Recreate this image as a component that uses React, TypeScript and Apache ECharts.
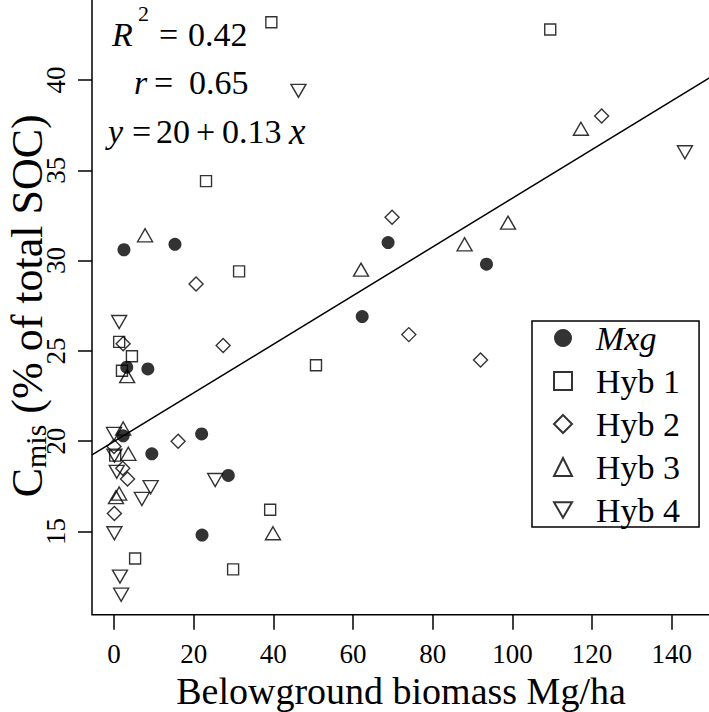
import React, { useEffect, useRef } from "react";
import * as echarts from "echarts";

// ---- data ----
const seriesNames = ["Mxg", "Hyb 1", "Hyb 2", "Hyb 3", "Hyb 4"];

const mxgX = [2.5, 15.3, 68.8, 93.5, 62.3, 3.2, 8.5, 2.3, 9.5, 22.0, 28.7, 22.1];
const mxgY = [30.6, 30.9, 31.0, 29.8, 26.9, 24.1, 24.0, 20.3, 19.3, 20.4, 18.1, 14.8];

const hyb1X = [39.5, 109.5, 23.1, 31.4, 50.7, 1.3, 4.5, 2.0, 0.3, 39.2, 5.3, 29.9];
const hyb1Y = [43.2, 42.8, 34.4, 29.4, 24.2, 25.5, 24.7, 23.9, 19.2, 16.2, 13.5, 12.9];

const hyb2X = [122.4, 69.8, 20.6, 74.0, 27.4, 92.0, 2.3, 16.1, 0.0, 2.2, 3.4, 0.1];
const hyb2Y = [38.0, 32.4, 28.7, 25.9, 25.3, 24.5, 25.4, 20.0, 19.7, 18.5, 17.9, 16.0];

const hyb3X = [117.2, 98.9, 7.8, 88.0, 62.0, 3.3, 2.3, 3.6, 0.5, 1.3, 39.9];
const hyb3Y = [37.3, 32.1, 31.4, 30.9, 29.5, 23.6, 20.7, 19.3, 16.9, 17.1, 14.9];

const hyb4X = [46.3, 143.3, 1.3, 0.0, 0.1, 0.7, 9.2, 7.0, 25.4, 0.1, 1.5, 1.8];
const hyb4Y = [39.4, 36.0, 26.6, 20.4, 19.2, 18.3, 17.45, 16.8, 17.85, 14.9, 12.5, 11.5];

// regression: y = a + b x
const regIntercept = 19.98;
const regSlope = 0.1347;

const xTicks = [0, 20, 40, 60, 80, 100, 120, 140];
const yTicks = [15, 20, 25, 30, 35, 40];

const X_MIN = -5.52;
const X_MAX = 149.6;
const Y_MIN = 10.39;
const Y_MAX = 44.6;

const FONT = "'Liberation Serif', 'Times New Roman', serif";

const pairs = (xs: number[], ys: number[]) => xs.map((x, i) => [x, ys[i]]);

const hollow = {
  color: "rgba(255,255,255,0)",
  borderColor: "#000",
  borderWidth: 1.4,
};

function txt(text: string, x: number, y: number, size: number, italic = false) {
  return {
    type: "text",
    x,
    y,
    silent: true,
    style: {
      text,
      fill: "#000",
      fontFamily: FONT,
      fontSize: size,
      fontStyle: italic ? "italic" : "normal",
      textAlign: "left",
      verticalAlign: "middle",
      textVerticalAlign: "middle",
    },
  };
}

export default function App() {
  const ref = useRef<HTMLDivElement>(null);

  useEffect(() => {
    if (!ref.current) return;
    const chart = echarts.init(ref.current, null, { renderer: "svg" });

    const A = 34;
    const L1 = 34;
    const L2 = 82;
    const L3 = 131.5;
    const option: any = {
      animation: false,
      backgroundColor: "#fff",
      grid: {
        left: 92,
        top: -3.08,
        width: 618,
        height: 617.8,
        show: true,
        borderColor: "#000",
        borderWidth: 1.5,
        containLabel: false,
        outerBoundsMode: "none",
      },
      xAxis: {
        type: "value",
        min: X_MIN,
        max: X_MAX,
        splitLine: { show: false },
        axisLine: { show: false, onZero: false },
        axisTick: {
          show: true,
          length: 15,
          customValues: xTicks,
          lineStyle: { color: "#000", width: 1.5 },
        },
        axisLabel: {
          customValues: xTicks,
          margin: 26,
          fontFamily: FONT,
          fontSize: 27,
          color: "#000",
        },
        name: "Belowground biomass Mg/ha",
        nameLocation: "middle",
        nameGap: 57,
        nameMoveOverlap: false,
        nameTextStyle: { fontFamily: FONT, fontSize: 38, color: "#000" },
      },
      yAxis: {
        type: "value",
        min: Y_MIN,
        max: Y_MAX,
        splitLine: { show: false },
        axisLine: { show: false, onZero: false },
        axisTick: {
          show: true,
          length: 14,
          customValues: yTicks,
          lineStyle: { color: "#000", width: 1.5 },
        },
        axisLabel: {
          customValues: yTicks,
          rotate: 90,
          margin: 23,
          fontFamily: FONT,
          fontSize: 27,
          color: "#000",
        },
        name: "{c|C}{s|mis}{t| (% of total SOC)}",
        nameLocation: "middle",
        nameRotate: 90,
        nameGap: 42,
        nameMoveOverlap: false,
        nameTextStyle: {
          fontFamily: FONT,
          fontSize: 44,
          color: "#000",
          rich: {
            c: { fontFamily: FONT, fontSize: 44, color: "#000", lineHeight: 45, verticalAlign: "top" },
            s: { fontFamily: FONT, fontSize: 30, color: "#000", lineHeight: 30, verticalAlign: "bottom" },
            t: { fontFamily: FONT, fontSize: 44, color: "#000", lineHeight: 45, verticalAlign: "top" },
          },
        },
      },
      legend: {
        data: seriesNames,
        orient: "vertical",
        left: 532,
        top: 321,
        padding: [0, 19, 0, 21],
        itemWidth: 18,
        itemHeight: 18,
        itemGap: 9,
        selectedMode: false,
        borderColor: "#000",
        borderWidth: 1.5,
        backgroundColor: "#fff",
        formatter: (name: string) => (name === "Mxg" ? `{it|${name}}` : `{n|${name}}`),
        textStyle: {
          fontFamily: FONT,
          fontSize: 34,
          color: "#000",
          rich: {
            it: { fontFamily: FONT, fontSize: 34, fontStyle: "italic", color: "#000", lineHeight: 30, padding: [0, 0, 0, 19] },
            n: { fontFamily: FONT, fontSize: 34, color: "#000", lineHeight: 30, padding: [0, 0, 0, 19] },
          },
        },
      },
      graphic: {
        elements: [
          txt("R", 112, L1, A, true),
          txt("2", 138, 13, 22),
          txt("=", 159, L1, A),
          txt("0.42", 188, L1, A),
          txt("r", 134, L2, A, true),
          txt("=", 154, L2, A),
          txt("0.65", 189, L2, A),
          txt("y", 108, L3, A, true),
          txt("=", 132, L3, A),
          txt("20", 156, L3, A),
          txt("+", 196, L3, A),
          txt("0.13", 222, L3, A),
          txt("x", 289, L3, 37, true),
        ],
      },
      series: [
        {
          name: "Mxg",
          type: "scatter",
          data: pairs(mxgX, mxgY),
          symbol: "circle",
          symbolSize: 13,
          itemStyle: { color: "#000" },
        },
        {
          name: "Hyb 1",
          type: "scatter",
          data: pairs(hyb1X, hyb1Y),
          symbol: "rect",
          symbolSize: 11,
          itemStyle: hollow,
        },
        {
          name: "Hyb 2",
          type: "scatter",
          data: pairs(hyb2X, hyb2Y),
          symbol: "diamond",
          symbolSize: 14,
          itemStyle: hollow,
        },
        {
          name: "Hyb 3",
          type: "scatter",
          data: pairs(hyb3X, hyb3Y),
          symbol: "triangle",
          symbolSize: [15, 13],
          itemStyle: hollow,
        },
        {
          name: "Hyb 4",
          type: "scatter",
          data: pairs(hyb4X, hyb4Y),
          symbol: "path://M0,0L20,0L10,17.3Z",
          symbolSize: [15, 13],
          itemStyle: hollow,
        },
        {
          name: "fit",
          type: "line",
          data: [
            [X_MIN, regIntercept + regSlope * X_MIN],
            [X_MAX, regIntercept + regSlope * X_MAX],
          ],
          symbol: "none",
          silent: true,
          lineStyle: { color: "#000", width: 1.5 },
          z: 1,
        },
      ],
    };

    chart.setOption(option);
    return () => chart.dispose();
  }, []);

  return (
    <div
      ref={ref}
      style={{ position: "absolute", left: 0, top: 0, width: 709, height: 712, background: "#fff" }}
    />
  );
}
